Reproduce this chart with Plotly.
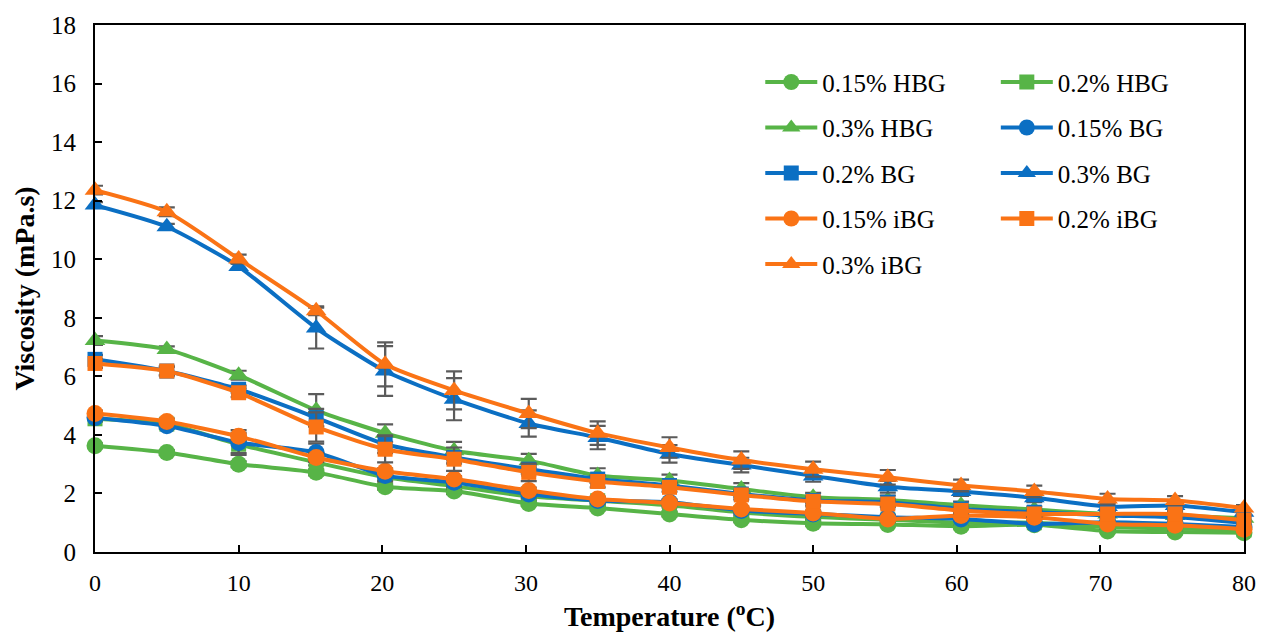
import plotly.graph_objects as go

# Measurement temperatures (°C)
temperature = [0, 5, 10, 15.4, 20.2, 25, 30.2, 35, 40, 45, 50, 55.2, 60.3, 65.4, 70.5, 75.2, 80]

# Viscosity (mPa.s) for each solution
hbg_015 = [3.63, 3.40, 3.00, 2.72, 2.23, 2.08, 1.66, 1.50, 1.30, 1.10, 0.98, 0.94, 0.88, 0.93, 0.72, 0.68, 0.66]
hbg_02 = [4.55, 4.37, 3.68, 3.06, 2.55, 2.25, 1.90, 1.75, 1.60, 1.35, 1.20, 1.10, 1.00, 1.00, 0.85, 0.80, 0.75]
hbg_03 = [7.22, 6.92, 6.04, 4.84, 4.06, 3.46, 3.12, 2.61, 2.44, 2.15, 1.87, 1.78, 1.60, 1.45, 1.30, 1.25, 1.15]
bg_015 = [4.59, 4.31, 3.74, 3.40, 2.61, 2.38, 1.98, 1.76, 1.70, 1.42, 1.30, 1.19, 1.13, 0.96, 1.02, 0.96, 0.85]
bg_02 = [6.58, 6.18, 5.56, 4.59, 3.68, 3.23, 2.83, 2.49, 2.27, 1.98, 1.76, 1.70, 1.47, 1.36, 1.25, 1.19, 1.00]
bg_03 = [11.85, 11.11, 9.75, 7.65, 6.18, 5.22, 4.39, 3.91, 3.35, 2.97, 2.60, 2.23, 2.07, 1.85, 1.55, 1.59, 1.36]
ibg_015 = [4.73, 4.46, 3.95, 3.23, 2.76, 2.49, 2.10, 1.81, 1.67, 1.47, 1.33, 1.13, 1.25, 1.19, 0.96, 0.91, 0.78]
ibg_02 = [6.44, 6.18, 5.44, 4.27, 3.51, 3.17, 2.72, 2.41, 2.21, 1.95, 1.73, 1.64, 1.42, 1.30, 1.30, 1.30, 1.08]
ibg_03 = [12.36, 11.62, 10.01, 8.24, 6.41, 5.52, 4.73, 4.06, 3.57, 3.14, 2.83, 2.55, 2.27, 2.07, 1.81, 1.76, 1.50]

# Standard deviations
hbg_015_sd = [0.08, 0.08, 0.1, 0.1, 0.1, 0.1, 0.08, 0.08, 0.08, 0.08, 0.08, 0.06, 0.06, 0.06, 0.06, 0.06, 0.05]
hbg_02_sd = [0.1, 0.1, 0.3, 0.1, 0.1, 0.1, 0.1, 0.1, 0.08, 0.08, 0.08, 0.08, 0.06, 0.06, 0.06, 0.06, 0.05]
hbg_03_sd = [0.15, 0.1, 0.15, 0.55, 0.3, 0.3, 0.23, 0.25, 0.2, 0.2, 0.15, 0.15, 0.12, 0.1, 0.1, 0.1, 0.08]
bg_015_sd = [0.1, 0.1, 0.42, 0.3, 0.2, 0.15, 0.12, 0.1, 0.1, 0.08, 0.08, 0.08, 0.06, 0.06, 0.06, 0.06, 0.05]
bg_02_sd = [0.15, 0.15, 0.12, 0.3, 0.3, 0.2, 0.15, 0.12, 0.1, 0.1, 0.1, 0.1, 0.08, 0.08, 0.08, 0.08, 0.06]
bg_03_sd = [0.1, 0.1, 0.1, 0.7, 0.85, 0.72, 0.45, 0.4, 0.3, 0.25, 0.2, 0.2, 0.15, 0.15, 0.12, 0.15, 0.1]
ibg_015_sd = [0.1, 0.1, 0.12, 0.15, 0.1, 0.1, 0.1, 0.08, 0.08, 0.08, 0.08, 0.06, 0.06, 0.06, 0.06, 0.06, 0.05]
ibg_02_sd = [0.15, 0.15, 0.15, 0.5, 0.45, 0.4, 0.3, 0.2, 0.15, 0.15, 0.15, 0.1, 0.1, 0.1, 0.1, 0.1, 0.08]
ibg_03_sd = [0.15, 0.15, 0.15, 0.15, 0.75, 0.65, 0.5, 0.4, 0.35, 0.3, 0.26, 0.25, 0.2, 0.2, 0.18, 0.15, 0.1]

GREEN = "#57B447"
BLUE = "#0B6FC3"
ORANGE = "#FA7315"
ERR = "#5B5B5B"
FONT = "Liberation Serif"

series = [
    ("0.15% HBG", hbg_015, hbg_015_sd, GREEN, "circle", "legend"),
    ("0.2% HBG", hbg_02, hbg_02_sd, GREEN, "square", "legend2"),
    ("0.3% HBG", hbg_03, hbg_03_sd, GREEN, "triangle-up", "legend"),
    ("0.15% BG", bg_015, bg_015_sd, BLUE, "circle", "legend2"),
    ("0.2% BG", bg_02, bg_02_sd, BLUE, "square", "legend"),
    ("0.3% BG", bg_03, bg_03_sd, BLUE, "triangle-up", "legend2"),
    ("0.15% iBG", ibg_015, ibg_015_sd, ORANGE, "circle", "legend"),
    ("0.2% iBG", ibg_02, ibg_02_sd, ORANGE, "square", "legend2"),
    ("0.3% iBG", ibg_03, ibg_03_sd, ORANGE, "triangle-up", "legend"),
]

marker_size = {"circle": 17, "square": 15, "triangle-up": 18}

fig = go.Figure()
for name, vals, sd, color, symbol, leg in series:
    fig.add_trace(go.Scatter(
        x=temperature, y=vals, name=name, mode="lines+markers",
        line=dict(color=color, width=4, shape="spline", smoothing=0.6),
        marker=dict(symbol=symbol, size=marker_size[symbol], color=color),
        error_y=dict(type="data", array=sd, visible=True, color=ERR, thickness=2.2, width=8),
        cliponaxis=False, legend=leg, legendgroup=name,
    ))

legend_style = dict(
    font=dict(family=FONT, size=25, color="black"),
    bgcolor="rgba(0,0,0,0)", tracegroupgap=10,
    xanchor="left", yanchor="top", itemwidth=52,
)

fig.update_layout(
    width=1268, height=639,
    margin=dict(l=95, r=20, t=20, b=87),
    paper_bgcolor="white", plot_bgcolor="white",
    font=dict(family=FONT, color="black"),
    legend=dict(x=0.579, y=0.935, **legend_style),
    legend2=dict(x=0.784, y=0.935, **legend_style),
    xaxis=dict(
        range=[0, 80], tickvals=[0, 10, 20, 30, 40, 50, 60, 70, 80],
        showline=True, mirror=True, linecolor="black", linewidth=2,
        ticks="inside", ticklen=7, tickwidth=2, tickcolor="black",
        showgrid=False, zeroline=False,
        tickfont=dict(family=FONT, size=24), ticklabelstandoff=8,
        title=dict(text="<b>Temperature (<sup>o</sup>C)</b>", font=dict(family=FONT, size=28), standoff=12),
    ),
    yaxis=dict(
        range=[0, 18], dtick=2,
        showline=True, mirror=True, linecolor="black", linewidth=2,
        ticks="inside", ticklen=7, tickwidth=2, tickcolor="black",
        showgrid=False, zeroline=False,
        tickfont=dict(family=FONT, size=25), ticklabelstandoff=12,
        title=dict(text="<b>Viscosity (mPa.s)</b>", font=dict(family=FONT, size=28), standoff=8),
    ),
)

fig.write_html("out.html")
